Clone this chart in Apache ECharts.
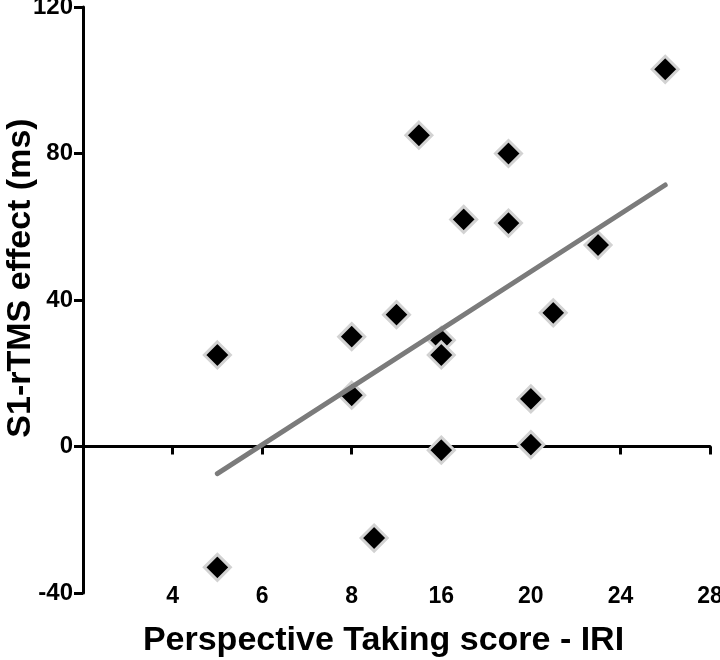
<!DOCTYPE html>
<html>
<head>
<meta charset="utf-8">
<script src="https://cdn.jsdelivr.net/npm/echarts@6/dist/echarts.min.js"></script>
<style>
  html, body { margin: 0; padding: 0; background: #fff; }
  #chart { width: 720px; height: 660px; }
</style>
</head>
<body>
<div id="chart"></div>
<script>
  // x values are positions on the axis (one tick = 4 units); the printed tick labels are kept as shown
  const xTickLabels = ['', '4', '6', '8', '16', '20', '24', '28'];
  const pointX = [6, 6, 12, 12, 13, 14, 15, 16, 16, 16, 17, 19, 19, 20, 20, 21, 23, 26];
  const pointY = [-33, 25, 30, 14, -25, 36, 85, 29, 25, -1, 62, 80, 61, 13, 0.5, 36.5, 55, 103];
  const fitX = [6, 26];
  const fitY = [-7.4, 71.4];

  const font = 'Liberation Sans, Arial, Helvetica, sans-serif';
  const chart = echarts.init(document.getElementById('chart'));

  const option = {
    animation: false,
    grid: { left: 83, right: 10, top: 7, bottom: 67, outerBoundsMode: 'none', containLabel: false },
    xAxis: [
      {
        // labels along the bottom
        type: 'value', min: 0, max: 28, interval: 4,
        position: 'bottom',
        axisLine: { show: false, onZero: false },
        axisTick: { show: false },
        splitLine: { show: false },
        axisLabel: {
          margin: -8,
          color: '#000', fontFamily: font, fontWeight: 'bold', fontSize: 23,
          formatter: (v) => xTickLabels[v / 4] || ''
        },
        name: 'Perspective Taking score - IRI',
        nameLocation: 'middle',
        nameGap: 31,
        nameMoveOverlap: false,
        nameTextStyle: {
          color: '#000', fontFamily: font, fontWeight: 'bold', fontSize: 34,
          padding: [0, 26, 0, 0]
        }
      },
      {
        // axis line at y = 0
        type: 'value', min: 0, max: 28, interval: 4,
        position: 'bottom',
        axisLine: { show: true, onZero: true, onZeroAxisIndex: 0, lineStyle: { color: '#000', width: 3 } },
        axisTick: { show: true, inside: false, length: 8, lineStyle: { color: '#000', width: 3 } },
        axisLabel: { show: false },
        splitLine: { show: false }
      }
    ],
    yAxis: {
      type: 'value', min: -40, max: 120, interval: 40,
      axisLine: { show: true, onZero: false, lineStyle: { color: '#000', width: 3 } },
      axisTick: { show: true, length: 9, lineStyle: { color: '#000', width: 3 } },
      splitLine: { show: false },
      axisLabel: { margin: 10, color: '#000', fontFamily: font, fontWeight: 'bold', fontSize: 24 },
      name: 'S1-rTMS effect (ms)',
      nameLocation: 'middle',
      nameGap: 45,
      nameMoveOverlap: false,
      nameTextStyle: {
        color: '#000', fontFamily: font, fontWeight: 'bold', fontSize: 34,
        padding: [0, 0, 0, 44]
      }
    },
    series: [
      {
        type: 'line',
        data: fitX.map((x, i) => [x, fitY[i]]),
        symbol: 'none',
        lineStyle: { color: '#7b7b7b', width: 5, cap: 'round' },
        z: 3
      },
      {
        type: 'scatter',
        data: pointX.map((x, i) => [x, pointY[i]]),
        symbol: 'diamond',
        symbolSize: 26,
        itemStyle: { color: '#000', borderColor: '#d2d2d2', borderWidth: 3, opacity: 1 },
        z: 2
      }
    ]
  };

  chart.setOption(option);
</script>
</body>
</html>
